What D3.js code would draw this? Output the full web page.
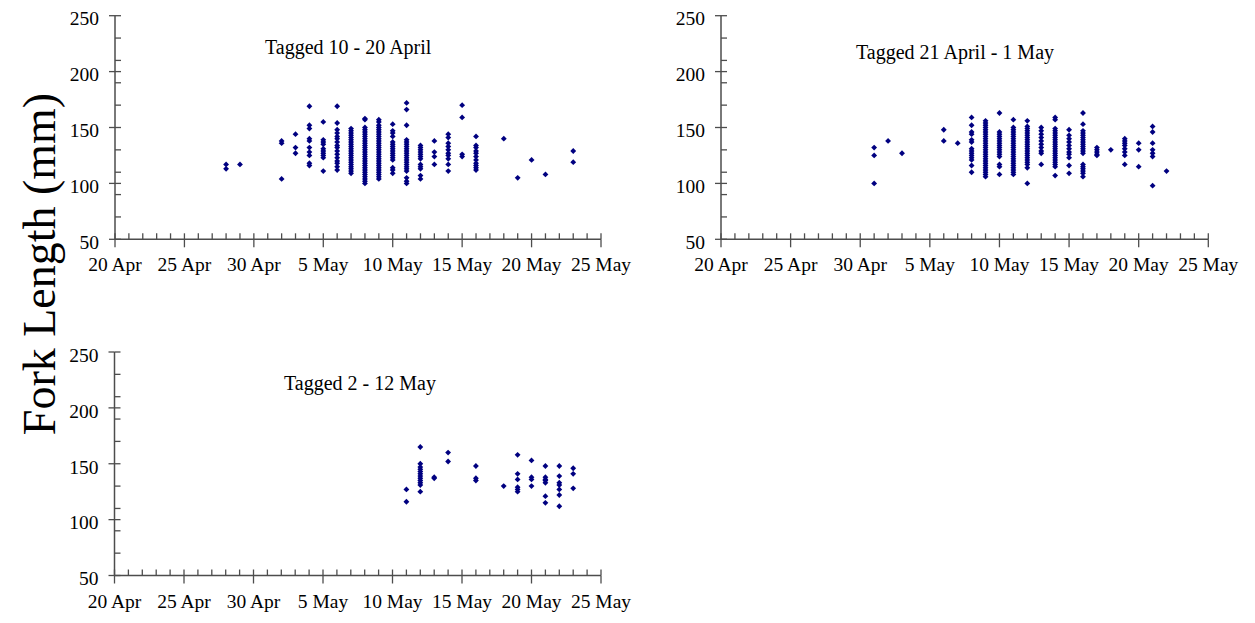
<!DOCTYPE html>
<html>
<head>
<meta charset="utf-8">
<script src="https://cdn.jsdelivr.net/npm/d3@7"></script>
<style>
  html, body { margin: 0; padding: 0; background: #fff; }
  svg { display: block; }
  text { font-family: "Liberation Serif", "Times New Roman", serif; fill: #000; }
</style>
</head>
<body>
<svg id="chart" width="1255" height="623"></svg>
<script>
// ---------------- data ----------------
const xTickLabels = ["20 Apr", "25 Apr", "30 Apr", "5 May", "10 May", "15 May", "20 May", "25 May"];
const xTickDates = ["04-20", "04-25", "04-30", "05-05", "05-10", "05-15", "05-20", "05-25"];
const yTickValues = [50, 100, 150, 200, 250];
const yMinorValues = [70, 90, 110, 130, 170, 190, 210, 230];
const yAxisTitle = "Fork Length (mm)";
const panelTitles = ["Tagged 10 - 20 April", "Tagged 21 April - 1 May", "Tagged 2 - 12 May"];

// Panel 1: Tagged 10 - 20 April
const p1Dates = ["04-28", "04-29", "05-02", "05-03", "05-04", "05-05", "05-06", "05-07", "05-08", "05-09",
                 "05-10", "05-11", "05-12", "05-13", "05-14", "05-15", "05-16", "05-18", "05-19", "05-20",
                 "05-21", "05-23"];
const p1Values = [
  [117, 113],
  [117],
  [138, 136, 104],
  [144, 132, 127],
  [169, 152, 149, 140, 138, 132, 128, 125, 118, 116],
  [155, 139, 137, 135, 131, 129, 127, 125, 123, 111],
  [169, 154, 148, 145, 142, 140, 137, 134, 132, 129, 126, 123, 120, 118, 115, 112],
  [149, 147, 145, 143, 141, 139, 137, 135, 133, 131, 129, 127, 125, 123, 121, 119, 117, 115, 113, 111, 109],
  [158, 157, 150, 148, 146, 144, 142, 140, 138, 136, 134, 132, 130, 128, 126, 124, 122, 120, 118, 116, 114, 112, 110, 108, 106, 104, 102, 100],
  [157, 155, 152, 150, 148, 146, 144, 142, 140, 138, 136, 134, 132, 130, 128, 126, 124, 122, 120, 118, 116, 114, 112, 110, 108, 106, 104],
  [153, 147, 145, 142, 137, 135, 133, 131, 129, 127, 125, 123, 121, 114, 112, 109],
  [172, 166, 152, 139, 137, 135, 133, 131, 129, 127, 125, 123, 121, 119, 117, 115, 113, 111, 105, 102, 100],
  [134, 132, 130, 128, 126, 124, 122, 117, 115, 113, 107, 104],
  [138, 128, 124, 117],
  [144, 141, 136, 133, 130, 127, 125, 122, 117, 111],
  [170, 159, 126, 124],
  [142, 134, 132, 129, 127, 124, 121, 118, 116, 114, 112],
  [140],
  [105],
  [121],
  [108],
  [129, 119]
];

// Panel 2: Tagged 21 April - 1 May
const p2Dates = ["05-01", "05-02", "05-03", "05-06", "05-07", "05-08", "05-09", "05-10", "05-11", "05-12",
                 "05-13", "05-14", "05-15", "05-16", "05-17", "05-18", "05-19", "05-20", "05-21", "05-22"];
const p2Values = [
  [132, 125, 100],
  [138],
  [127],
  [148, 138],
  [136],
  [159, 152, 146, 144, 139, 137, 131, 129, 127, 125, 123, 121, 116, 110],
  [156, 154, 152, 150, 148, 146, 144, 142, 140, 138, 136, 134, 132, 130, 128, 126, 124, 122, 120, 118, 116, 114, 112, 110, 108, 106],
  [163, 146, 144, 142, 140, 138, 136, 134, 132, 130, 128, 126, 124, 117, 115, 108],
  [157, 150, 148, 146, 144, 142, 140, 138, 136, 134, 132, 130, 128, 126, 124, 122, 120, 118, 116, 114, 112, 110, 108],
  [156, 151, 149, 147, 145, 143, 141, 139, 137, 135, 133, 131, 129, 127, 125, 123, 121, 119, 117, 114, 100],
  [150, 147, 144, 141, 138, 135, 132, 129, 127, 117],
  [159, 157, 149, 147, 145, 143, 141, 139, 137, 135, 133, 131, 129, 127, 125, 123, 121, 119, 117, 115, 107],
  [148, 143, 140, 137, 134, 131, 128, 126, 123, 116, 109],
  [163, 153, 147, 145, 143, 141, 139, 137, 135, 133, 131, 129, 127, 117, 115, 113, 111, 109, 106],
  [132, 130, 128, 126, 125],
  [130],
  [140, 138, 136, 134, 131, 128, 125, 117],
  [136, 130, 115],
  [151, 146, 136, 130, 127, 124, 98],
  [111]
];

// Panel 3: Tagged 2 - 12 May
const p3Dates = ["05-11", "05-12", "05-13", "05-14", "05-16", "05-18", "05-19", "05-20", "05-21", "05-22", "05-23"];
const p3Values = [
  [127, 116],
  [165, 150, 147, 145, 143, 141, 139, 137, 135, 133, 131, 125],
  [138, 137],
  [160, 152],
  [148, 137, 135],
  [130],
  [158, 141, 136, 129, 127, 125],
  [153, 138, 136, 130],
  [148, 138, 136, 135, 133, 121, 115],
  [148, 139, 133, 131, 127, 122, 112],
  [146, 141, 128]
];

// ---------------- drawing ----------------
const parseDate = s => d3.timeParse("%Y-%m-%d")("2000-" + s);
const svg = d3.select("#chart");
const navy = "#000080";
const axisColor = "#4d4d4d";

const panels = [
  { title: panelTitles[0], dates: p1Dates, values: p1Values, x0: 115, x1: 601, yTop: 15.7, yBot: 239.3, titleX: 265, titleY: 54 },
  { title: panelTitles[1], dates: p2Dates, values: p2Values, x0: 721, x1: 1208.3, yTop: 15.7, yBot: 239.3, titleX: 856, titleY: 59 },
  { title: panelTitles[2], dates: p3Dates, values: p3Values, x0: 114.5, x1: 601, yTop: 352, yBot: 575.5, titleX: 284, titleY: 390 }
];

const domainX = [parseDate("04-20"), parseDate("05-25")];
const allDays = d3.timeDay.range(domainX[0], d3.timeDay.offset(domainX[1], 1));

panels.forEach(p => {
  const x = d3.scaleTime().domain(domainX).range([p.x0, p.x1]);
  const y = d3.scaleLinear().domain([50, 250]).range([p.yBot, p.yTop]);
  const g = svg.append("g");

  // axis lines
  g.append("line").attr("x1", p.x0).attr("x2", p.x0).attr("y1", y(250)).attr("y2", y(50))
    .attr("stroke", axisColor).attr("stroke-width", 1.5);
  g.append("line").attr("x1", p.x0).attr("x2", p.x1).attr("y1", y(50)).attr("y2", y(50))
    .attr("stroke", axisColor).attr("stroke-width", 1.5);

  // y minor ticks (inside)
  g.selectAll(".ymin").data(yMinorValues.concat(yTickValues)).enter().append("line")
    .attr("x1", p.x0).attr("x2", p.x0 + 6)
    .attr("y1", d => y(d)).attr("y2", d => y(d))
    .attr("stroke", axisColor).attr("stroke-width", 1.3);
  // y major ticks (outside)
  g.selectAll(".ymaj").data(yTickValues).enter().append("line")
    .attr("x1", p.x0 - 6).attr("x2", p.x0)
    .attr("y1", d => y(d)).attr("y2", d => y(d))
    .attr("stroke", axisColor).attr("stroke-width", 1.3);
  // y labels
  g.selectAll(".ylab").data(yTickValues).enter().append("text")
    .attr("x", p.x0 - 16).attr("y", d => y(d)).attr("dy", "0.5em")
    .attr("text-anchor", "end").style("font-size", "19.5px")
    .text(d => d);

  // x minor ticks (inside, every day)
  g.selectAll(".xmin").data(allDays).enter().append("line")
    .attr("x1", d => x(d)).attr("x2", d => x(d))
    .attr("y1", y(50) - 6).attr("y2", y(50))
    .attr("stroke", axisColor).attr("stroke-width", 1.3);
  // x major ticks (outside)
  const majorDates = xTickDates.map(parseDate);
  g.selectAll(".xmaj").data(majorDates).enter().append("line")
    .attr("x1", d => x(d)).attr("x2", d => x(d))
    .attr("y1", y(50)).attr("y2", y(50) + 8)
    .attr("stroke", axisColor).attr("stroke-width", 1.3);
  g.selectAll(".xlab").data(majorDates).enter().append("text")
    .attr("x", d => x(d)).attr("y", y(50) + 32)
    .attr("text-anchor", "middle").style("font-size", "19.5px")
    .text((d, i) => xTickLabels[i]);

  // title
  g.append("text").attr("x", p.titleX).attr("y", p.titleY)
    .style("font-size", "20px").text(p.title);

  // points
  const pts = [];
  p.dates.forEach((ds, i) => {
    p.values[i].forEach(v => pts.push({ date: parseDate(ds), v }));
  });
  g.selectAll(".pt").data(pts).enter().append("path")
    .attr("d", d3.symbol().type(d3.symbolSquare).size(17))
    .attr("transform", d => `translate(${x(d.date)},${y(d.v)}) rotate(45)`)
    .attr("fill", navy);
});

// shared y-axis title
svg.append("text")
  .attr("transform", "translate(55,264) rotate(-90)")
  .attr("text-anchor", "middle")
  .style("font-size", "46px")
  .text(yAxisTitle);
</script>
</body>
</html>
